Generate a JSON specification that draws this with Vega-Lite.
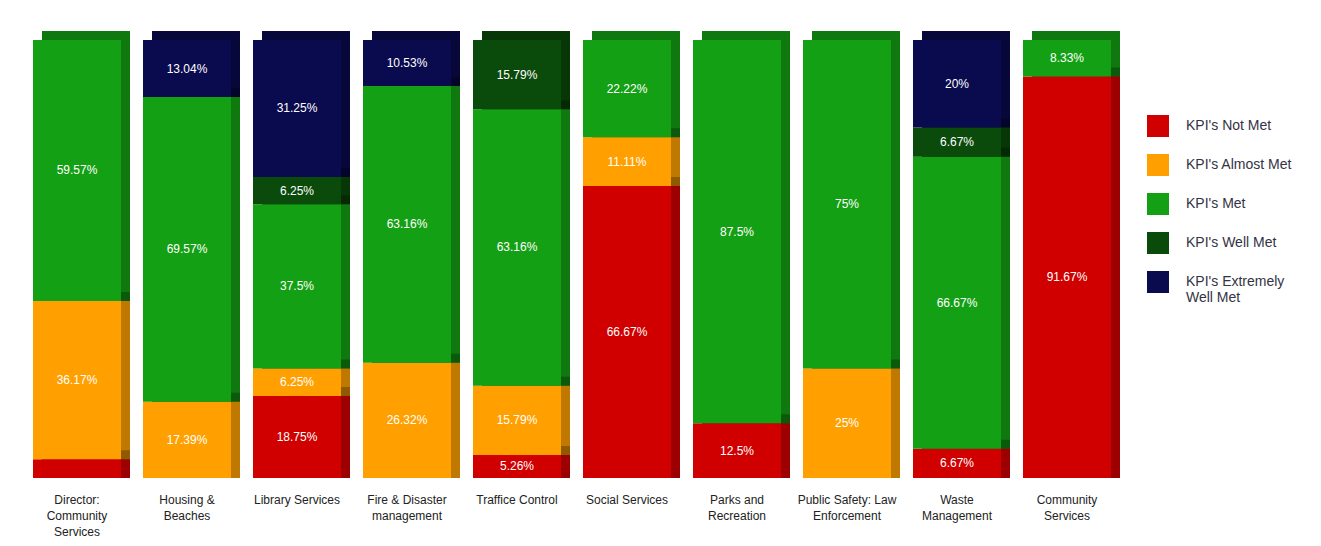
{
  "$schema": "https://vega.github.io/schema/vega-lite/v6.json",
  "width": 1078,
  "height": 438,
  "autosize": {"type": "none"},
  "padding": {"left": 33, "top": 40, "right": 210, "bottom": 68},
  "background": "white",
  "config": {"view": {"stroke": null}, "font": "Liberation Sans"},
  "data": {
    "values": [
      {"unit": "Director: Community Services", "kpi": "KPI's Not Met", "rank": 1, "v": 4.26},
      {"unit": "Director: Community Services", "kpi": "KPI's Almost Met", "rank": 2, "v": 36.17},
      {"unit": "Director: Community Services", "kpi": "KPI's Met", "rank": 3, "v": 59.57},
      {"unit": "Housing & Beaches", "kpi": "KPI's Almost Met", "rank": 2, "v": 17.39},
      {"unit": "Housing & Beaches", "kpi": "KPI's Met", "rank": 3, "v": 69.57},
      {"unit": "Housing & Beaches", "kpi": "KPI's Extremely Well Met", "rank": 5, "v": 13.04},
      {"unit": "Library Services", "kpi": "KPI's Not Met", "rank": 1, "v": 18.75},
      {"unit": "Library Services", "kpi": "KPI's Almost Met", "rank": 2, "v": 6.25},
      {"unit": "Library Services", "kpi": "KPI's Met", "rank": 3, "v": 37.5},
      {"unit": "Library Services", "kpi": "KPI's Well Met", "rank": 4, "v": 6.25},
      {"unit": "Library Services", "kpi": "KPI's Extremely Well Met", "rank": 5, "v": 31.25},
      {"unit": "Fire & Disaster management", "kpi": "KPI's Almost Met", "rank": 2, "v": 26.32},
      {"unit": "Fire & Disaster management", "kpi": "KPI's Met", "rank": 3, "v": 63.16},
      {"unit": "Fire & Disaster management", "kpi": "KPI's Extremely Well Met", "rank": 5, "v": 10.53},
      {"unit": "Traffice Control", "kpi": "KPI's Not Met", "rank": 1, "v": 5.26},
      {"unit": "Traffice Control", "kpi": "KPI's Almost Met", "rank": 2, "v": 15.79},
      {"unit": "Traffice Control", "kpi": "KPI's Met", "rank": 3, "v": 63.16},
      {"unit": "Traffice Control", "kpi": "KPI's Well Met", "rank": 4, "v": 15.79},
      {"unit": "Social Services", "kpi": "KPI's Not Met", "rank": 1, "v": 66.67},
      {"unit": "Social Services", "kpi": "KPI's Almost Met", "rank": 2, "v": 11.11},
      {"unit": "Social Services", "kpi": "KPI's Met", "rank": 3, "v": 22.22},
      {"unit": "Parks and Recreation", "kpi": "KPI's Not Met", "rank": 1, "v": 12.5},
      {"unit": "Parks and Recreation", "kpi": "KPI's Met", "rank": 3, "v": 87.5},
      {"unit": "Public Safety: Law Enforcement", "kpi": "KPI's Almost Met", "rank": 2, "v": 25},
      {"unit": "Public Safety: Law Enforcement", "kpi": "KPI's Met", "rank": 3, "v": 75},
      {"unit": "Waste Management", "kpi": "KPI's Not Met", "rank": 1, "v": 6.67},
      {"unit": "Waste Management", "kpi": "KPI's Met", "rank": 3, "v": 66.67},
      {"unit": "Waste Management", "kpi": "KPI's Well Met", "rank": 4, "v": 6.67},
      {"unit": "Waste Management", "kpi": "KPI's Extremely Well Met", "rank": 5, "v": 20},
      {"unit": "Community Services", "kpi": "KPI's Not Met", "rank": 1, "v": 91.67},
      {"unit": "Community Services", "kpi": "KPI's Met", "rank": 3, "v": 8.33}
    ]
  },
  "transform": [
    {"stack": "v", "groupby": ["unit"], "sort": [{"field": "rank", "order": "ascending"}], "as": ["v0", "v1"]},
    {"calculate": "(datum.v0 + datum.v1) / 2", "as": "mid"},
    {"calculate": "format(datum.v, '.4~r') + '%'", "as": "lbl"}
  ],
  "encoding": {
    "x": {
      "field": "unit",
      "type": "nominal",
      "sort": null,
      "scale": {"paddingInner": 0.2, "paddingOuter": 0},
      "axis": {
        "title": null,
        "domain": false,
        "ticks": false,
        "labelAngle": 0,
        "labelFontSize": 12,
        "labelColor": "#222222",
        "labelPadding": 16,
        "labelLimit": 200,
        "labelLineHeight": 16,
        "labelExpr": "({'Director: Community Services': ['Director:', 'Community', 'Services'], 'Housing & Beaches': ['Housing &', 'Beaches'], 'Fire & Disaster management': ['Fire & Disaster', 'management'], 'Parks and Recreation': ['Parks and', 'Recreation'], 'Public Safety: Law Enforcement': ['Public Safety: Law', 'Enforcement'], 'Waste Management': ['Waste', 'Management'], 'Community Services': ['Community', 'Services']})[datum.label] || datum.label"
      }
    },
    "color": {
      "field": "kpi",
      "type": "nominal",
      "scale": {"domain": ["KPI's Not Met", "KPI's Almost Met", "KPI's Met", "KPI's Well Met", "KPI's Extremely Well Met"],
                "range": ["#d00000", "#ffa000", "#14a014", "#0a4a0a", "#0a0a4e"]},
      "legend": {
        "title": null,
        "orient": "none",
        "legendX": 1114,
        "legendY": 75,
        "symbolType": "square",
        "symbolSize": 484,
        "symbolStrokeWidth": 0,
        "symbolOpacity": 1,
        "labelFontSize": 14,
        "labelColor": "#333344",
        "labelOffset": 17,
        "rowPadding": 17,
        "labelLimit": 200,
        "labelExpr": "datum.label === \"KPI's Extremely Well Met\" ? [\"KPI's Extremely\", 'Well Met'] : datum.label"
      }
    }
  },
  "layer": [
    {
      "mark": {"type": "bar", "xOffset": 9, "yOffset": -9},
      "encoding": {
        "y": {"field": "v1", "type": "quantitative", "scale": {"domain": [0, 100], "nice": false}, "axis": null},
        "y2": {"field": "v0"}
      }
    },
    {
      "mark": {"type": "bar", "xOffset": 9, "yOffset": -9, "fill": "black", "opacity": 0.25},
      "encoding": {
        "y": {"field": "v1", "type": "quantitative"},
        "y2": {"field": "v0"},
        "color": {"value": "black"},
        "detail": {"field": "kpi"}
      }
    },
    {
      "mark": {"type": "bar"},
      "encoding": {
        "y": {"field": "v1", "type": "quantitative"},
        "y2": {"field": "v0"}
      }
    },
    {
      "transform": [{"filter": "datum.v > 5"}],
      "mark": {"type": "text", "baseline": "middle", "align": "center", "fontSize": 12},
      "encoding": {
        "y": {"field": "mid", "type": "quantitative"},
        "text": {"field": "lbl"},
        "color": {"value": "white"}
      }
    }
  ]
}
